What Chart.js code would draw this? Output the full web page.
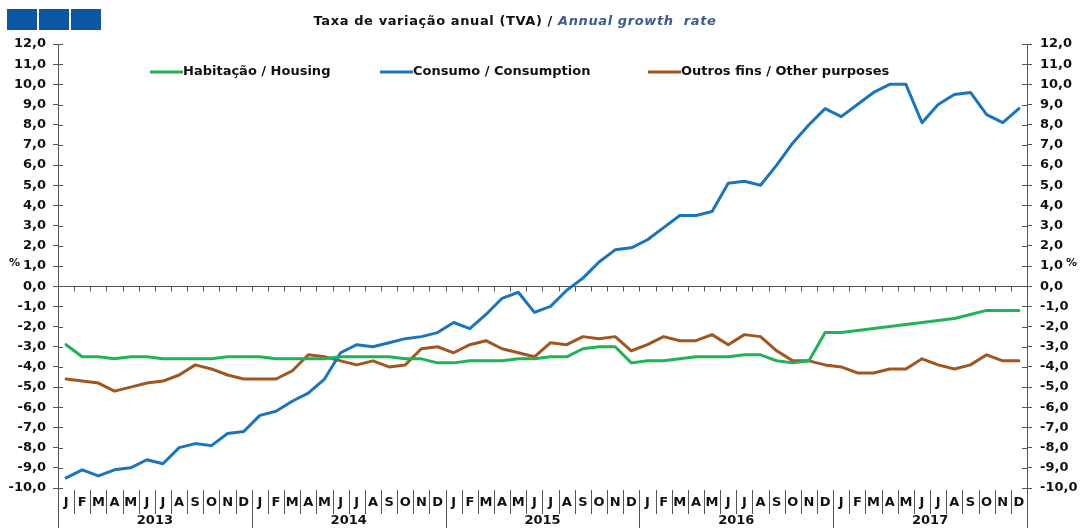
<!DOCTYPE html>
<html lang="pt">
<head>
    <meta charset="UTF-8">
    <title>Taxa de variação anual (TVA) / Annual growth rate</title>
    <script src="https://cdn.jsdelivr.net/npm/chart.js"></script>
    <style>
        body {
            margin: 0;
            padding: 0;
            background-color: #ffffff;
        }

        .chart-box {
            width: 1081px;
            height: 528px;
        }
    </style>
</head>
<body>
    <div class="chart-box">
        <canvas id="tvaChart" width="1081" height="528"></canvas>
    </div>

    <script>
        // Months of each year, and the years shown below them
        const months = ["J", "F", "M", "A", "M", "J", "J", "A", "S", "O", "N", "D"];
        const years = ["2013", "2014", "2015", "2016", "2017"];

        // Annual growth rate (%), Jan 2013 .. Dec 2017
        const housing = [
            -2.9, -3.5, -3.5, -3.6, -3.5, -3.5, -3.6, -3.6, -3.6, -3.6, -3.5, -3.5,
            -3.5, -3.6, -3.6, -3.6, -3.6, -3.5, -3.5, -3.5, -3.5, -3.6, -3.6, -3.8,
            -3.8, -3.7, -3.7, -3.7, -3.6, -3.6, -3.5, -3.5, -3.1, -3.0, -3.0, -3.8,
            -3.7, -3.7, -3.6, -3.5, -3.5, -3.5, -3.4, -3.4, -3.7, -3.8, -3.7, -2.3,
            -2.3, -2.2, -2.1, -2.0, -1.9, -1.8, -1.7, -1.6, -1.4, -1.2, -1.2, -1.2
        ];
        const consumption = [
            -9.5, -9.1, -9.4, -9.1, -9.0, -8.6, -8.8, -8.0, -7.8, -7.9, -7.3, -7.2,
            -6.4, -6.2, -5.7, -5.3, -4.6, -3.3, -2.9, -3.0, -2.8, -2.6, -2.5, -2.3,
            -1.8, -2.1, -1.4, -0.6, -0.3, -1.3, -1.0, -0.2, 0.4, 1.2, 1.8, 1.9,
            2.3, 2.9, 3.5, 3.5, 3.7, 5.1, 5.2, 5.0, 6.0, 7.1, 8.0, 8.8,
            8.4, 9.0, 9.6, 10.0, 10.0, 8.1, 9.0, 9.5, 9.6, 8.5, 8.1, 8.8
        ];
        const otherPurposes = [
            -4.6, -4.7, -4.8, -5.2, -5.0, -4.8, -4.7, -4.4, -3.9, -4.1, -4.4, -4.6,
            -4.6, -4.6, -4.2, -3.4, -3.5, -3.7, -3.9, -3.7, -4.0, -3.9, -3.1, -3.0,
            -3.3, -2.9, -2.7, -3.1, -3.3, -3.5, -2.8, -2.9, -2.5, -2.6, -2.5, -3.2,
            -2.9, -2.5, -2.7, -2.7, -2.4, -2.9, -2.4, -2.5, -3.2, -3.7, -3.7, -3.9,
            -4.0, -4.3, -4.3, -4.1, -4.1, -3.6, -3.9, -4.1, -3.9, -3.4, -3.7, -3.7
        ];

        // Value axis range
        const yMin = -10;
        const yMax = 12;
        const yStep = 1;

        const labels = [];
        years.forEach(() => months.forEach(m => labels.push(m)));

        const FONT = "'DejaVu Sans', 'Liberation Sans', Arial, sans-serif";
        const AXIS_COLOR = "#555";
        const TEXT_COLOR = "#111";

        function fmt(v) {
            return v.toFixed(1).replace(".", ",");
        }

        // Draws the bits Excel-style charts have that Chart.js does not:
        // header, in-plot legend, zero line, month/year separators
        const decorations = {
            id: "decorations",
            beforeDatasetsDraw(chart) {
                const ctx = chart.ctx;
                const area = chart.chartArea;
                const x = chart.scales.x;
                const y = chart.scales.y;
                const band = x.getPixelForValue(1) - x.getPixelForValue(0);
                const zero = Math.round(y.getPixelForValue(0)) + 0.5;

                ctx.save();
                ctx.strokeStyle = AXIS_COLOR;
                ctx.lineWidth = 1;
                ctx.beginPath();
                ctx.moveTo(area.left, zero);
                ctx.lineTo(area.right, zero);
                for (let i = 0; i <= labels.length; i++) {
                    const px = Math.round(x.getPixelForValue(0) - band / 2 + i * band) + 0.5;
                    ctx.moveTo(px, zero);
                    ctx.lineTo(px, zero + 5);
                }
                ctx.stroke();
                ctx.restore();
            },
            afterDraw(chart) {
                const ctx = chart.ctx;
                const area = chart.chartArea;
                const x = chart.scales.x;
                const y = chart.scales.y;
                const band = x.getPixelForValue(1) - x.getPixelForValue(0);
                const H = chart.height;

                ctx.save();

                // header squares
                ctx.fillStyle = "#0b57a4";
                [7, 39, 71].forEach(sx => ctx.fillRect(sx, 9, 30, 21));

                // title: bold black part + italic blue part
                ctx.textBaseline = "middle";
                ctx.textAlign = "left";
                ctx.letterSpacing = "0.6px";
                const t1 = "Taxa de variação anual (TVA) / ";
                const t2 = "Annual growth  rate";
                ctx.font = "bold 13px " + FONT;
                const w1 = ctx.measureText(t1).width;
                ctx.font = "italic bold 13px " + FONT;
                const w2 = ctx.measureText(t2).width;
                let tx = 515 - (w1 + w2) / 2;
                ctx.font = "bold 13px " + FONT;
                ctx.fillStyle = TEXT_COLOR;
                ctx.fillText(t1, tx, 22);
                ctx.font = "italic bold 13px " + FONT;
                ctx.fillStyle = "#3b5b8f";
                ctx.fillText(t2, tx + w1, 22);
                ctx.letterSpacing = "0px";

                // legend inside plot
                const legendX = [150, 380, 648];
                ctx.font = "bold 13px " + FONT;
                chart.data.datasets.forEach((ds, i) => {
                    const lx = legendX[i];
                    ctx.strokeStyle = ds.borderColor;
                    ctx.lineWidth = 3;
                    ctx.beginPath();
                    ctx.moveTo(lx, 72);
                    ctx.lineTo(lx + 33, 72);
                    ctx.stroke();
                    ctx.fillStyle = TEXT_COLOR;
                    ctx.fillText(ds.label, lx + 33, 72);
                });

                // cross ticks on the inner side of both value axes
                ctx.strokeStyle = AXIS_COLOR;
                ctx.lineWidth = 1;
                ctx.beginPath();
                for (let v = yMin; v <= yMax; v += yStep) {
                    const py = Math.round(y.getPixelForValue(v)) + 0.5;
                    ctx.moveTo(area.left, py);
                    ctx.lineTo(area.left + 5, py);
                    ctx.moveTo(area.right, py);
                    ctx.lineTo(area.right - 5, py);
                }
                // value axes run down through the category rows
                ctx.moveTo(Math.round(area.left) + 0.5, area.bottom);
                ctx.lineTo(Math.round(area.left) + 0.5, H);
                ctx.moveTo(Math.round(area.right) + 0.5, area.bottom);
                ctx.lineTo(Math.round(area.right) + 0.5, H);
                // month and year separators
                for (let i = 1; i < labels.length; i++) {
                    const px = Math.round(x.getPixelForValue(0) - band / 2 + i * band) + 0.5;
                    ctx.moveTo(px, area.bottom + 2);
                    ctx.lineTo(px, i % 12 === 0 ? H : area.bottom + 26);
                }
                ctx.stroke();

                // year labels
                ctx.fillStyle = TEXT_COLOR;
                ctx.textAlign = "center";
                ctx.font = "bold 13px " + FONT;
                years.forEach((yr, k) => {
                    const cx = (x.getPixelForValue(k * 12) + x.getPixelForValue(k * 12 + 11)) / 2;
                    ctx.fillText(yr, cx, 521);
                });

                // % unit marks
                ctx.font = "bold 11px " + FONT;
                ctx.textAlign = "left";
                const p1 = y.getPixelForValue(1) - 3;
                ctx.fillText("%", 9, p1);
                ctx.fillText("%", 1066, p1);

                ctx.restore();
            }
        };

        function valueAxis(position, width, pad) {
            return {
                type: "linear",
                position: position,
                min: yMin,
                max: yMax,
                afterFit: s => { s.width = width; },
                ticks: {
                    stepSize: yStep,
                    callback: v => fmt(v),
                    color: TEXT_COLOR,
                    font: { family: FONT, size: 13, weight: "bold" },
                    padding: pad
                },
                grid: {
                    drawOnChartArea: false,
                    drawTicks: true,
                    tickLength: 5,
                    color: AXIS_COLOR
                },
                border: { color: AXIS_COLOR }
            };
        }

        new Chart(document.getElementById("tvaChart"), {
            type: "line",
            data: {
                labels: labels,
                datasets: [
                    {
                        label: "Habitação / Housing",
                        data: housing,
                        borderColor: "#20b257",
                        borderWidth: 3,
                        yAxisID: "y"
                    },
                    {
                        label: "Consumo / Consumption",
                        data: consumption,
                        borderColor: "#1b75bc",
                        borderWidth: 3,
                        yAxisID: "y"
                    },
                    {
                        label: "Outros fins / Other purposes",
                        data: otherPurposes,
                        borderColor: "#a0561f",
                        borderWidth: 3,
                        yAxisID: "y"
                    }
                ]
            },
            options: {
                responsive: false,
                animation: false,
                devicePixelRatio: 1,
                layout: { padding: { top: 44, left: 0, right: 0, bottom: 0 } },
                elements: {
                    point: { radius: 0, hoverRadius: 0 },
                    line: { tension: 0, borderCapStyle: "round", borderJoinStyle: "round" }
                },
                plugins: {
                    legend: { display: false },
                    title: { display: false },
                    tooltip: { enabled: false }
                },
                scales: {
                    x: {
                        type: "category",
                        offset: true,
                        afterFit: s => { s.height = 40; },
                        grid: { display: false },
                        border: { display: false },
                        ticks: {
                            autoSkip: false,
                            maxRotation: 0,
                            minRotation: 0,
                            padding: -1,
                            color: TEXT_COLOR,
                            font: { family: FONT, size: 13, weight: "bold" }
                        }
                    },
                    y: valueAxis("left", 58, 7),
                    y2: valueAxis("right", 54, 8)
                }
            },
            plugins: [decorations]
        });
    </script>
</body>
</html>
